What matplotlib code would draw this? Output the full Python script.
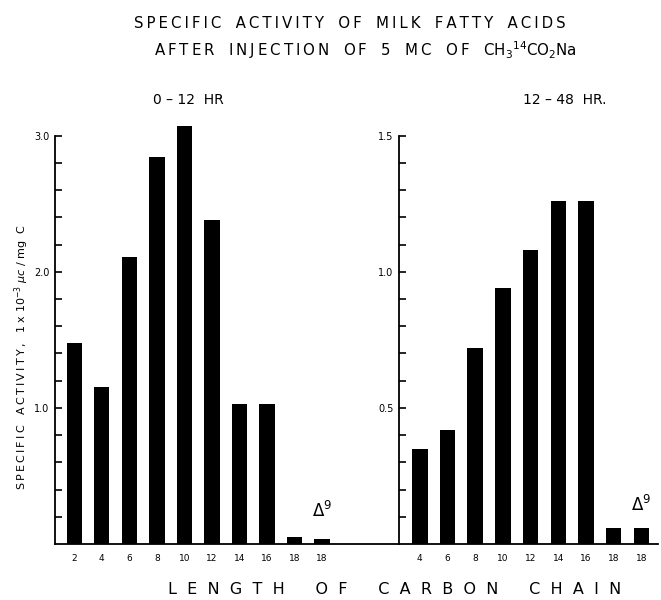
import numpy as np
import matplotlib
matplotlib.use("Agg")
from matplotlib import pyplot as plt

# data
early_labels = ["2", "4", "6", "8", "10", "12", "14", "16", "18", "18"]
early_vals = [1.48, 1.15, 2.11, 2.84, 3.07, 2.38, 1.03, 1.03, 0.05, 0.035]
late_labels = ["4", "6", "8", "10", "12", "14", "16", "18", "18"]
late_vals = [0.35, 0.42, 0.72, 0.94, 1.08, 1.26, 1.26, 0.06, 0.06]

W, H = 661, 600
fig = plt.figure(figsize=(W / 100, H / 100), dpi=100)
fig.patch.set_facecolor("white")

def spaced(s, gap="\u2009"):
    # lettering-guide look: a thin space between every letter
    return gap.join(s)

def box(x0, x1, y0, y1):
    # pixel box -> figure fraction
    return [x0 / W, 1 - y1 / H, (x1 - x0) / W, (y1 - y0) / H]

ax1 = fig.add_axes(box(55, 399, 122, 544))
ax2 = fig.add_axes(box(399, 658, 122, 544))

def style(ax, top, major, minor, labels):
    for s in ["top", "right"]:
        ax.spines[s].set_visible(False)
    ax.spines["left"].set_bounds(0, top)
    ax.spines["left"].set_linewidth(1.3)
    ax.spines["bottom"].set_linewidth(1.3)
    ax.set_yticks(major)
    ax.set_yticklabels(labels, fontsize=7)
    ax.set_yticks(minor, minor=True)
    ax.tick_params(axis="y", which="both", direction="in", length=5, width=1.2, pad=4)
    ax.tick_params(axis="x", length=0, labelsize=6.5, pad=7)

x1 = np.arange(len(early_vals))
ax1.bar(x1, early_vals, width=0.56, color="black")
ax1.set_xticks(x1)
ax1.set_xticklabels(early_labels)
ax1.set_xlim(-0.7, 11.8)
ax1.set_ylim(0, 3.1)
style(ax1, 3.0, [1.0, 2.0, 3.0], np.arange(0.2, 3.01, 0.2), ["1.0", "2.0", "3.0"])

x2 = np.arange(len(late_vals))
ax2.bar(x2, late_vals, width=0.56, color="black")
ax2.set_xticks(x2)
ax2.set_xticklabels(late_labels)
ax2.set_xlim(-0.75, 8.6)
ax2.set_ylim(0, 1.55)
style(ax2, 1.5, [0.5, 1.0, 1.5], np.arange(0.1, 1.51, 0.1), ["0.5", "1.0", "1.5"])

ax1.text(9, 0.17, r"$\Delta^9$", ha="center", va="bottom", fontsize=12)
ax2.text(8, 0.105, r"$\Delta^9$", ha="center", va="bottom", fontsize=12)

fig.text(350 / W, 1 - 23 / H,
         "   ".join(spaced(w) for w in "SPECIFIC ACTIVITY OF MILK FATTY ACIDS".split()),
         ha="center", va="center", fontsize=10.8)
line2 = "   ".join(spaced(w) for w in "AFTER INJECTION OF 5 MC OF".split())
fig.text(365 / W, 1 - 50 / H, line2 + r"   CH$_3$$^{14}$CO$_2$Na",
         ha="center", va="center", fontsize=10.8)
fig.text(188 / W, 1 - 100 / H, "0 – 12  HR", ha="center", va="center", fontsize=10)
fig.text(565 / W, 1 - 100 / H, "12 – 48  HR.", ha="center", va="center", fontsize=10)

fig.text(22 / W, 1 - 357 / H,
         spaced("SPECIFIC") + "   " + spaced("ACTIVITY,") + r"   1 x 10$^{-3}$ $\mu c$ / mg  C",
         rotation=90, ha="center", va="center", fontsize=8)
fig.text(395 / W, 1 - 590 / H, "L  E  N  G  T  H      O  F      C  A  R  B  O  N      C  H  A  I  N",
         ha="center", va="center", fontsize=11.5)

fig.savefig("out.png", dpi=100)
